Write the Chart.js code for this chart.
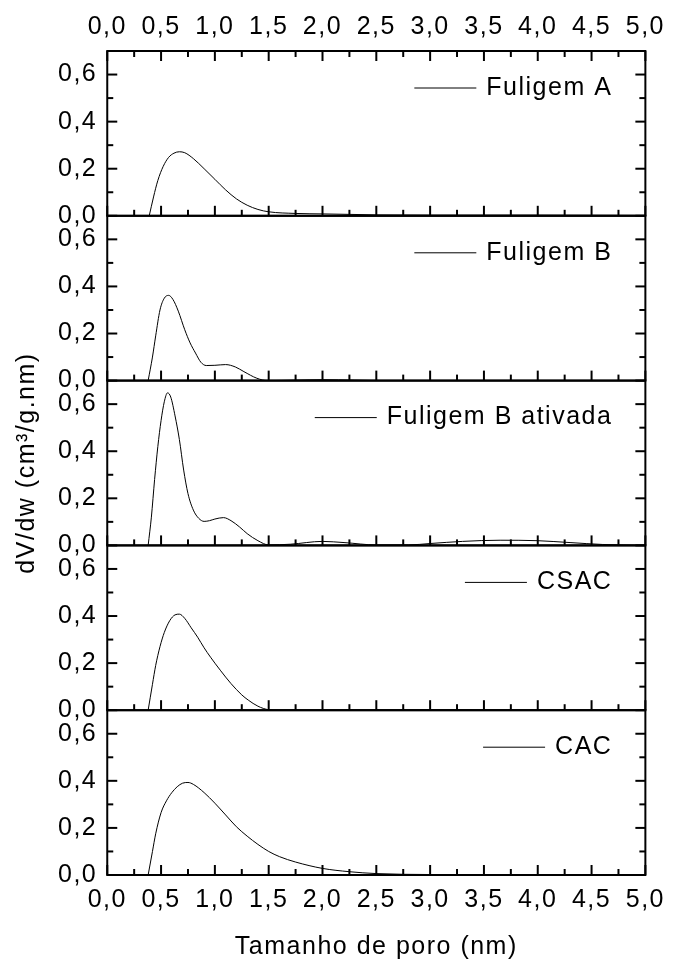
<!DOCTYPE html>
<html>
<head>
<meta charset="utf-8">
<script src="https://cdn.jsdelivr.net/npm/chart.js@4/dist/chart.umd.min.js"></script>
<style>
  html, body { margin: 0; padding: 0; background: #fff; }
  canvas { display: block; }
</style>
</head>
<body>
<canvas id="poreChart" width="675" height="960"></canvas>
<script>
// nomes das amostras, de cima para baixo
const seriesNames = ['Fuligem A', 'Fuligem B', 'Fuligem B ativada', 'CSAC', 'CAC'];

const xTickValues = [0, 0.5, 1, 1.5, 2, 2.5, 3, 3.5, 4, 4.5, 5];
const xTickLabels = ['0,0', '0,5', '1,0', '1,5', '2,0', '2,5', '3,0', '3,5', '4,0', '4,5', '5,0'];
const yTickValues = [0, 0.2, 0.4, 0.6];
const yTickLabels = ['0,0', '0,2', '0,4', '0,6'];

const xTitle = 'Tamanho de poro (nm)';
const yTitle = 'dV/dw (cm³/g.nm)';

// valores (tamanho de poro em nm, dV/dw)
const fuligemA_x = [0.39, 0.43, 0.47, 0.52, 0.57, 0.62, 0.67, 0.72, 0.80, 0.90, 1.00, 1.10, 1.20, 1.30, 1.40, 1.50, 1.75, 2.00, 2.50, 3.00, 4.00, 5.00];
const fuligemA_y = [0, 0.08, 0.15, 0.21, 0.248, 0.266, 0.272, 0.268, 0.243, 0.200, 0.155, 0.110, 0.072, 0.045, 0.027, 0.017, 0.010, 0.008, 0.004, 0.003, 0.003, 0.002];

const fuligemB_x = [0.38, 0.42, 0.45, 0.49, 0.53, 0.57, 0.61, 0.66, 0.72, 0.77, 0.82, 0.87, 0.92, 1.00, 1.10, 1.19, 1.27, 1.39, 1.49, 1.75, 2.00, 2.30, 2.60, 5.00];
const fuligemB_y = [0, 0.10, 0.19, 0.30, 0.35, 0.362, 0.345, 0.295, 0.216, 0.160, 0.117, 0.078, 0.064, 0.065, 0.068, 0.058, 0.038, 0.010, 0, 0.002, 0.004, 0.002, 0, 0];

const fuligemBat_x = [0.38, 0.41, 0.44, 0.47, 0.50, 0.53, 0.56, 0.59, 0.63, 0.67, 0.71, 0.75, 0.80, 0.85, 0.90, 0.95, 1.00, 1.08, 1.15, 1.23, 1.30, 1.40, 1.50, 1.70, 2.00, 2.20, 2.50, 2.80, 3.00, 3.30, 3.65, 4.00, 4.30, 4.60, 5.00];
const fuligemBat_y = [0, 0.12, 0.28, 0.42, 0.53, 0.61, 0.648, 0.63, 0.55, 0.45, 0.32, 0.22, 0.15, 0.115, 0.102, 0.105, 0.112, 0.118, 0.105, 0.078, 0.05, 0.02, 0.002, 0.005, 0.017, 0.012, 0.002, 0.002, 0.008, 0.017, 0.022, 0.020, 0.012, 0.004, 0];

const csac_x = [0.38, 0.42, 0.45, 0.49, 0.53, 0.58, 0.63, 0.67, 0.72, 0.78, 0.84, 0.90, 0.96, 1.05, 1.15, 1.25, 1.31, 1.40, 1.50, 1.60, 3.00, 5.00];
const csac_y = [0, 0.11, 0.19, 0.27, 0.33, 0.38, 0.405, 0.408, 0.39, 0.35, 0.31, 0.265, 0.225, 0.17, 0.113, 0.065, 0.043, 0.017, 0.002, 0, 0.002, 0];

const cac_x = [0.38, 0.42, 0.45, 0.50, 0.55, 0.60, 0.65, 0.70, 0.75, 0.80, 0.90, 1.00, 1.10, 1.20, 1.30, 1.40, 1.50, 1.60, 1.75, 2.00, 2.25, 2.50, 3.00, 4.00, 5.00];
const cac_y = [0, 0.10, 0.175, 0.265, 0.315, 0.35, 0.375, 0.39, 0.393, 0.385, 0.35, 0.305, 0.255, 0.205, 0.165, 0.13, 0.10, 0.078, 0.055, 0.028, 0.014, 0.006, 0.002, 0.001, 0];

const seriesX = [fuligemA_x, fuligemB_x, fuligemBat_x, csac_x, cac_x];
const seriesY = [fuligemA_y, fuligemB_y, fuligemBat_y, csac_y, cac_y];

const panelIds = ['y1', 'y2', 'y3', 'y4', 'y5'];
const FONT = '"Liberation Sans", Arial, Helvetica, sans-serif';
const tickFont = { family: FONT, size: 25 };

const datasets = seriesNames.map((name, i) => ({
    label: name,
    data: seriesX[i].map((x, j) => ({ x: x, y: seriesY[i][j] })),
    yAxisID: panelIds[i],
    xAxisID: 'x',
    borderColor: '#000',
    borderWidth: 1,
    pointRadius: 0,
    fill: false,
    cubicInterpolationMode: 'monotone'
}));

const scales = {
    x: {
        type: 'linear', position: 'bottom', min: 0, max: 5,
        grid: { display: false, drawTicks: false }, border: { display: false },
        afterBuildTicks: s => { s.ticks = xTickValues.map(v => ({ value: v })); },
        ticks: { font: tickFont, color: '#000', padding: 10, maxRotation: 0, autoSkip: false,
                 callback: (v, i) => xTickLabels[i] },
        title: { display: true, text: xTitle, color: '#000', font: { family: FONT, size: 25, lineHeight: 1 },
                 padding: { top: 10, bottom: 0 } }
    },
    x2: {
        type: 'linear', position: 'top', min: 0, max: 5,
        grid: { display: false, drawTicks: false }, border: { display: false },
        afterBuildTicks: s => { s.ticks = xTickValues.map(v => ({ value: v })); },
        ticks: { font: tickFont, color: '#000', padding: 9, maxRotation: 0, autoSkip: false,
                 callback: (v, i) => xTickLabels[i] }
    }
};

// eixos empilhados: o último declarado fica em cima, por isso a ordem invertida
panelIds.slice().reverse().forEach(id => {
    scales[id] = {
        type: 'linear', position: 'left', stack: 'panels', stackWeight: 1, offset: false,
        min: 0, max: 0.7,
        grid: { display: false, drawTicks: false }, border: { display: false },
        afterBuildTicks: s => { s.ticks = yTickValues.map(v => ({ value: v })); },
        ticks: { font: tickFont, color: '#000', padding: 10, autoSkip: false,
                 callback: (v, k) => yTickLabels[k] }
    };
});

// espaçamento das letras parecido com o original
const spacingPlugin = {
    id: 'spacing',
    beforeLayout(chart) { chart.ctx.letterSpacing = '1.5px'; },
    beforeDraw(chart) { chart.ctx.letterSpacing = '1.5px'; }
};

// molduras, marcas internas, legendas de cada painel e título do eixo y
const panelPlugin = {
    id: 'panels',
    afterDraw(chart) {
        const ctx = chart.ctx;
        const { left, right } = chart.chartArea;
        const xs = chart.scales.x;
        const mids = arr => arr.slice(1).map((t, k) => (arr[k].value + t.value) / 2);
        const xMajor = xs.ticks.map(t => t.value);
        const xMinor = mids(xs.ticks);
        ctx.save();
        ctx.strokeStyle = '#000';
        ctx.fillStyle = '#000';

        const tick = (x1, y1, x2, y2) => { ctx.beginPath(); ctx.moveTo(x1, y1); ctx.lineTo(x2, y2); ctx.stroke(); };

        panelIds.forEach((id, i) => {
            const ys = chart.scales[id];
            const top = ys.top, bottom = ys.bottom;
            ctx.lineWidth = 2;
            ctx.strokeRect(left, top, right - left, bottom - top);

            xMajor.forEach(v => {
                const px = xs.getPixelForValue(v);
                tick(px, bottom, px, bottom - 10);
                if (i === 0) tick(px, top, px, top + 10);
            });
            xMinor.forEach(v => {
                const px = xs.getPixelForValue(v);
                tick(px, bottom, px, bottom - 6);
                if (i === 0) tick(px, top, px, top + 6);
            });
            ys.ticks.forEach(t => {
                const py = ys.getPixelForValue(t.value);
                tick(left, py, left + 10, py);
                tick(right, py, right - 10, py);
            });
            mids(ys.ticks).forEach(v => {
                const py = ys.getPixelForValue(v);
                tick(left, py, left + 6, py);
                tick(right, py, right - 6, py);
            });

            // legenda
            const label = chart.data.datasets[i].label;
            ctx.font = '25px ' + FONT;
            ctx.textAlign = 'right';
            ctx.textBaseline = 'middle';
            const tx = right - 33;
            const ty = top + 37;
            ctx.fillText(label, tx, ty);
            const w = ctx.measureText(label).width;
            ctx.lineWidth = 1;
            tick(tx - w - 72, ty, tx - w - 10, ty);
        });

        // título do eixo y, centrado no conjunto dos painéis
        const yTop = chart.scales[panelIds[0]].top;
        const yBottom = chart.scales[panelIds[panelIds.length - 1]].bottom;
        ctx.translate(27, (yTop + yBottom) / 2);
        ctx.rotate(-Math.PI / 2);
        ctx.textAlign = 'center';
        ctx.textBaseline = 'middle';
        ctx.font = '25px ' + FONT;
        ctx.fillText(yTitle, 0, 0);
        ctx.restore();
    }
};

new Chart(document.getElementById('poreChart').getContext('2d'), {
    type: 'line',
    data: { datasets: datasets },
    options: {
        responsive: false,
        animation: false,
        devicePixelRatio: 1,
        layout: { padding: { left: 48, right: 22, top: 3, bottom: 0 } },
        plugins: { legend: { display: false }, tooltip: { enabled: false } },
        scales: scales
    },
    plugins: [spacingPlugin, panelPlugin]
});
</script>
</body>
</html>
